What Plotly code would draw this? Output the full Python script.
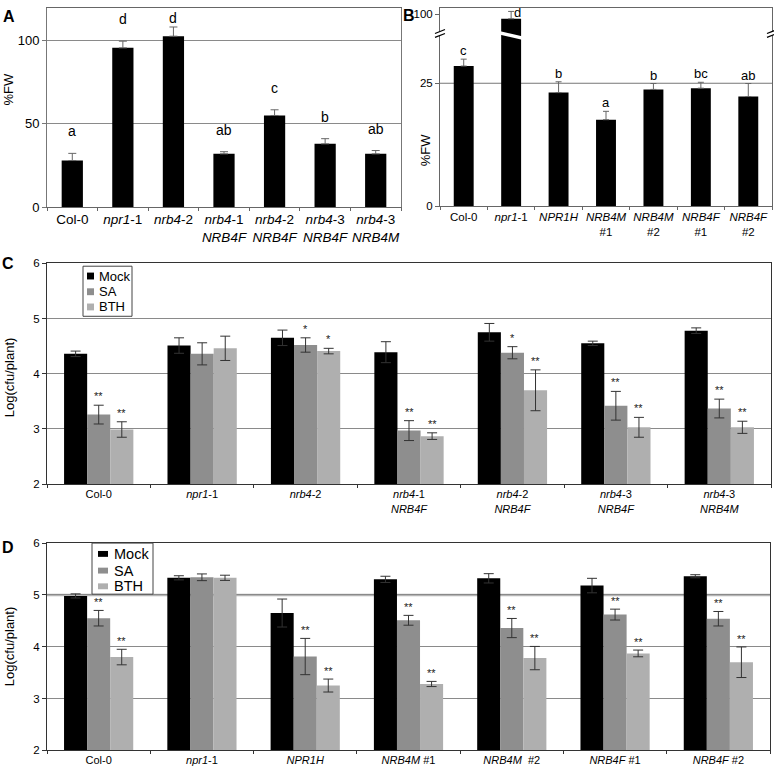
import plotly.graph_objects as go

W = H = 774
FONT = "Liberation Sans, Arial, Helvetica, sans-serif"

# ---------------- data ----------------
A_categories = ["Col-0", "<i>npr1</i>-1", "<i>nrb4</i>-2",
                "<i>nrb4</i>-1<br><i>NRB4F</i>", "<i>nrb4</i>-2<br><i>NRB4F</i>",
                "<i>nrb4</i>-3<br><i>NRB4F</i>", "<i>nrb4</i>-3<br><i>NRB4M</i>"]
A_values = [28, 95.5, 102.5, 32, 55, 38, 32]
A_errors = [4.3, 4.0, 5.5, 1.3, 3.4, 3.1, 2.0]
A_letters = ["a", "d", "d", "ab", "c", "b", "ab"]
A_ticks = [0, 50, 100]

B_categories = ["Col-0", "<i>npr1</i>-1", "<i>NPR1H</i>", "<i>NRB4M</i><br>#1",
                "<i>NRB4M</i><br>#2", "<i>NRB4F</i><br>#1", "<i>NRB4F</i><br>#2"]
B_values = [28.5, 97, 23.1, 17.6, 23.75, 24.0, 22.3]
B_errors = [1.4, 5.0, 2.2, 1.7, 1.2, 1.2, 2.65]
B_letters = ["c", "d", "b", "a", "b", "bc", "ab"]
B_ticks = [0, 25, 100]

series = ["Mock", "SA", "BTH"]

C_categories = A_categories
C_mock = [4.36, 4.51, 4.65, 4.39, 4.75, 4.55, 4.78]
C_mock_err = [0.05, 0.14, 0.14, 0.19, 0.16, 0.04, 0.05]
C_sa = [3.26, 4.36, 4.52, 2.97, 4.38, 3.42, 3.37]
C_sa_err = [0.17, 0.20, 0.13, 0.18, 0.11, 0.26, 0.17]
C_bth = [2.99, 4.46, 4.41, 2.87, 3.70, 3.03, 3.03]
C_bth_err = [0.14, 0.22, 0.05, 0.06, 0.37, 0.18, 0.11]
C_sa_sig = ["**", "", "*", "**", "*", "**", "**"]
C_bth_sig = ["**", "", "*", "**", "**", "**", "**"]

D_categories = ["Col-0", "<i>npr1</i>-1", "<i>NPR1H</i>", "<i>NRB4M</i> #1",
                "<i>NRB4M</i>  #2", "<i>NRB4F</i> #1", "<i>NRB4F</i> #2"]
D_mock = [4.98, 5.33, 4.65, 5.30, 5.32, 5.18, 5.36]
D_mock_err = [0.04, 0.04, 0.27, 0.06, 0.09, 0.14, 0.03]
D_sa = [4.55, 5.34, 3.81, 4.51, 4.36, 4.62, 4.54]
D_sa_err = [0.15, 0.065, 0.35, 0.095, 0.185, 0.105, 0.14]
D_bth = [3.80, 5.33, 3.25, 3.28, 3.78, 3.87, 3.70]
D_bth_err = [0.15, 0.05, 0.125, 0.05, 0.225, 0.065, 0.295]
D_sa_sig = ["**", "", "**", "**", "**", "**", "**"]
D_bth_sig = ["**", "", "**", "**", "**", "**", "**"]

# ---------------- style ----------------
COLORS = {"Mock": "#000000", "SA": "#8e8e8e", "BTH": "#afafaf"}
BARGAP = 0.33
SINGLE_W = 0.42


def X(px):
    return px / W


def Y(py):
    return 1 - py / H


# broken axis for panel B
def brk(v):
    return v if v <= 35 else 36 + (v - 90) * 0.3


fig = go.Figure()

# ---- panel A ----
fig.add_trace(go.Bar(
    x=A_categories, y=A_values, xaxis="x", yaxis="y",
    marker=dict(color="black", line=dict(width=0)),
    width=SINGLE_W, offset=-SINGLE_W / 2, showlegend=False,
    error_y=dict(type="data", symmetric=False, array=A_errors,
                 arrayminus=[0] * len(A_errors), color="#666", thickness=1, width=4),
))

# ---- panel B ----
B_disp = [brk(v) for v in B_values]
B_err_disp = [brk(v + e) - brk(v) for v, e in zip(B_values, B_errors)]
fig.add_trace(go.Bar(
    x=B_categories, y=B_disp, xaxis="x2", yaxis="y2",
    marker=dict(color="black", line=dict(width=0)),
    width=SINGLE_W, offset=-SINGLE_W / 2, showlegend=False,
    error_y=dict(type="data", symmetric=False, array=B_err_disp,
                 arrayminus=[0] * len(B_err_disp), color="#666", thickness=1, width=3),
))

# ---- panels C and D ----
for cats, vals, errs, xa, ya in [
    (C_categories, [C_mock, C_sa, C_bth], [C_mock_err, C_sa_err, C_bth_err], "x3", "y3"),
    (D_categories, [D_mock, D_sa, D_bth], [D_mock_err, D_sa_err, D_bth_err], "x4", "y4"),
]:
    for name, v, e in zip(series, vals, errs):
        fig.add_trace(go.Bar(
            x=cats, y=v, name=name, xaxis=xa, yaxis=ya,
            marker=dict(color=COLORS[name], line=dict(width=0)),
            showlegend=False,
            error_y=dict(type="data", array=e, color="#333", thickness=1, width=5),
        ))

annotations = []
shapes = []

# letters A
for i, (v, e, t) in enumerate(zip(A_values, A_errors, A_letters)):
    annotations.append(dict(x=i, y=min(v + e, 100), xref="x", yref="y", text=t,
                            showarrow=False, yanchor="bottom", yshift=12,
                            font=dict(size=14, color="black")))
# letters B
for i, (v, e, t) in enumerate(zip(B_values, B_errors, B_letters)):
    top = brk(v + e)
    if v > 35:
        annotations.append(dict(x=i, y=top, xref="x2", yref="y2", text=t, showarrow=False,
                                yanchor="middle", xshift=6, yshift=-1,
                                font=dict(size=13, color="black")))
    else:
        annotations.append(dict(x=i, y=top, xref="x2", yref="y2", text=t, showarrow=False,
                                yanchor="bottom", yshift=-1,
                                font=dict(size=13, color="black")))

# significance stars C / D
bw = (1 - BARGAP) / 3
for xa, ya, sa, sae, sas, bt, bte, bts, ys in [
    ("x3", "y3", C_sa, C_sa_err, C_sa_sig, C_bth, C_bth_err, C_bth_sig, 1),
    ("x4", "y4", D_sa, D_sa_err, D_sa_sig, D_bth, D_bth_err, D_bth_sig, 0),
]:
    for i in range(len(sa)):
        for off, v, e, s in [(0, sa[i], sae[i], sas[i]), (bw, bt[i], bte[i], bts[i])]:
            if s:
                annotations.append(dict(x=i + off, y=v + e, xref=xa, yref=ya, text=s,
                                        showarrow=False, yanchor="bottom", yshift=ys,
                                        font=dict(size=11, color="#222")))

# panel labels
for t, px, py in [("A", 9, 11), ("B", 409, 10), ("C", 8, 262), ("D", 8, 551)]:
    annotations.append(dict(x=X(px), y=Y(py), xref="paper", yref="paper", text=f"<b>{t}</b>",
                            showarrow=False, xanchor="center", yanchor="middle",
                            font=dict(size=16, color="black")))

# axis titles
for t, px, py in [("%FW", 8, 85), ("%FW", 425, 147),
                  ("Log(cfu/plant)", 9, 378), ("Log(cfu/plant)", 9, 652)]:
    annotations.append(dict(x=X(px), y=Y(py), xref="paper", yref="paper", text=t,
                            textangle=-90, showarrow=False, xanchor="center", yanchor="middle",
                            font=dict(size=13, color="black")))

# gridlines B (25) and D (5, heavier)
shapes.append(dict(type="line", xref="x2 domain", yref="y2", x0=0, x1=1, y0=25, y1=25,
                   line=dict(color="#777", width=1), layer="below"))
shapes.append(dict(type="line", xref="x4 domain", yref="y4", x0=0, x1=1, y0=5, y1=5,
                   line=dict(color="#b5b5b5", width=2.5), layer="below"))

# slash on broken npr1-1 bar in B
shapes.append(dict(type="path", xref="x2", yref="y2", xsizemode="pixel", ysizemode="pixel",
                   xanchor=1, yanchor=34.7,
                   path="M -12 4.5 L 12 -1 L 12 -4.5 L -12 1 Z",
                   fillcolor="white", line=dict(width=0)))

# axis break marks on B
for ax in (440, 772):
    shapes.append(dict(type="path", xref="paper", yref="paper",
                       path=f"M {X(ax-5)} {Y(28)} L {X(ax+5)} {Y(24)} L {X(ax+5)} {Y(28)} L {X(ax-5)} {Y(32)} Z",
                       fillcolor="white", line=dict(width=0)))
    for dy in (0, 4):
        shapes.append(dict(type="line", xref="paper", yref="paper",
                           x0=X(ax - 5), y0=Y(28 + dy), x1=X(ax + 5), y1=Y(24 + dy),
                           line=dict(color="black", width=1.2)))

# manual legends
for (bx0, by0, bx1, by1, sw, sh, sx, rows, tx, fs) in [
    (83, 265, 132, 316, 7, 7, 87, [275, 291, 306.5], 97, 13),
    (92, 547, 153, 599, 10, 6, 98, [558, 575, 591], 112, 14.5),
]:
    shapes.append(dict(type="rect", xref="paper", yref="paper", x0=X(bx0), x1=X(bx1),
                       y0=Y(by1), y1=Y(by0), fillcolor="white",
                       line=dict(color="#444", width=1)))
    for name, ry in zip(series, rows):
        shapes.append(dict(type="rect", xref="paper", yref="paper", x0=X(sx), x1=X(sx + sw),
                           y0=Y(ry + sh / 2), y1=Y(ry - sh / 2), fillcolor=COLORS[name],
                           line=dict(width=0)))
        annotations.append(dict(x=X(tx), y=Y(ry), xref="paper", yref="paper", text=name,
                                showarrow=False, xanchor="left", yanchor="middle",
                                font=dict(size=fs, color="black")))


def xax(d0, d1, fs, anchor, lc):
    return dict(domain=[X(d0), X(d1)], type="category", tickson="boundaries",
                ticks="outside", ticklen=3, tickcolor=lc, showline=True, mirror=True,
                linecolor=lc, linewidth=1, showgrid=False, anchor=anchor, tickangle=0,
                tickfont=dict(size=fs, color="black"), fixedrange=True)


def yax(top, bottom, rng, fs, anchor, lc, **kw):
    d = dict(domain=[Y(bottom), Y(top)], range=rng, ticks="outside", ticklen=4,
             tickcolor=lc, showline=True, mirror=True, linecolor=lc, linewidth=1,
             gridcolor="#8a8a8a", gridwidth=1, zeroline=False, anchor=anchor,
             tickfont=dict(size=fs, color="black"), fixedrange=True)
    d.update(kw)
    return d


fig.update_layout(
    width=W, height=H, margin=dict(l=0, r=0, t=0, b=0),
    paper_bgcolor="white", plot_bgcolor="white",
    font=dict(family=FONT, color="black"),
    barmode="group", bargap=BARGAP, bargroupgap=0,
    showlegend=False,
    xaxis=xax(47, 401, 13.5, "y", "#666"),
    yaxis=yax(2, 205, [0, 119.4], 13, "x", "#777", tickvals=A_ticks),
    xaxis2=xax(440, 772, 11.5, "y2", "#666"),
    yaxis2=yax(2, 204, [0, 40.3], 11.5, "x2", "#666", showgrid=False,
               tickvals=[brk(t) for t in B_ticks], ticktext=[str(t) for t in B_ticks]),
    xaxis3=xax(47, 771, 11, "y3", "#333"),
    yaxis3=yax(262, 487, [2, 6], 11.5, "x3", "#333", tickvals=[2, 3, 4, 5, 6]),
    xaxis4=xax(47, 770, 11, "y4", "#333"),
    yaxis4=yax(547, 758, [2, 6], 11.5, "x4", "#333", tickvals=[2, 3, 4, 5, 6]),
    annotations=annotations, shapes=shapes,
)

fig.write_html("out.html", config={"displayModeBar": False, "staticPlot": True},
               post_script="document.body.style.margin='0';document.body.style.overflow='hidden';")
